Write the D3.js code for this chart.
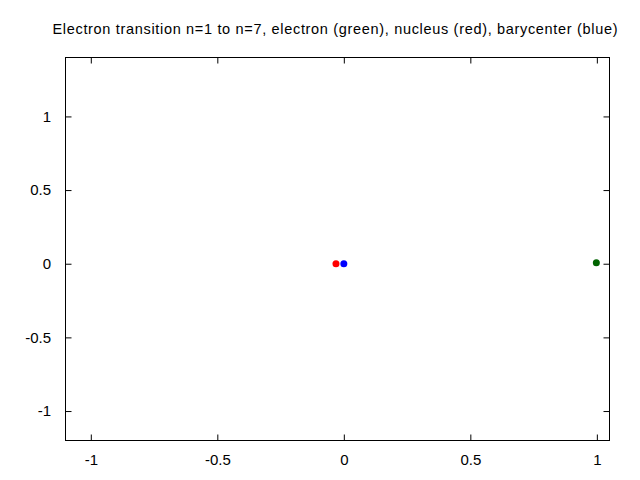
<!DOCTYPE html>
<html><head><meta charset="utf-8">
<script src="https://cdn.jsdelivr.net/npm/d3@7"></script>
<style>body{margin:0;background:#fff}svg{display:block}text{font-family:"Liberation Sans",Arial,sans-serif}</style>
</head><body>
<svg id="c" width="640" height="480"></svg>
<script>
const title = "Electron transition n=1 to n=7, electron (green), nucleus (red), barycenter (blue)";
const xTicks = [-1, -0.5, 0, 0.5, 1];
const yTicks = [-1, -0.5, 0, 0.5, 1];
const bodies = ["nucleus", "barycenter", "electron"];
const xs = [-0.031, 0, 0.998];
const ys = [0, 0, 0.0075];
const colors = ["#ff0000", "#0000ff", "#006400"];

const svg = d3.select("#c");
const L = 65.5, R = 609.5, T = 57.5, B = 440.5;
const x = d3.scaleLinear().domain([-1.1, 1.05]).range([L, R]);
const y = d3.scaleLinear().domain([-1.2, 1.4]).range([B, T]);
const fmt = d => String(d);

svg.append("text").attr("x", 335).attr("y", 34).attr("text-anchor", "middle")
  .attr("font-size", 14.5).attr("textLength", 565).attr("lengthAdjust", "spacing").text(title);

const g = svg.append("g");
g.append("g").attr("transform", `translate(0,${B})`)
  .call(d3.axisBottom(x).tickValues(xTicks).tickFormat(fmt).tickSize(-6).tickPadding(13.5));
g.append("g").attr("transform", `translate(0,${T})`)
  .call(d3.axisTop(x).tickValues(xTicks).tickFormat("").tickSize(-6));
g.append("g").attr("transform", `translate(${L},0)`)
  .call(d3.axisLeft(y).tickValues(yTicks).tickFormat(fmt).tickSize(-6).tickPadding(14.5));
g.append("g").attr("transform", `translate(${R},0)`)
  .call(d3.axisRight(y).tickValues(yTicks).tickFormat("").tickSize(-6));
g.selectAll(".domain").remove();
g.selectAll(".tick line").attr("stroke", "#000").attr("stroke-width", 1);
g.selectAll(".tick text").attr("font-size", 15).attr("fill", "#000")
  .style("font-family", '"Liberation Sans",Arial,sans-serif');

svg.append("rect").attr("x", L).attr("y", T).attr("width", R - L).attr("height", B - T)
  .attr("fill", "none").attr("stroke", "#000").attr("stroke-width", 1);

svg.append("g").selectAll("circle").data(bodies).join("circle")
  .attr("cx", (d, i) => x(xs[i])).attr("cy", (d, i) => y(ys[i]))
  .attr("r", 3.5).attr("fill", (d, i) => colors[i]);
</script>
</body></html>
